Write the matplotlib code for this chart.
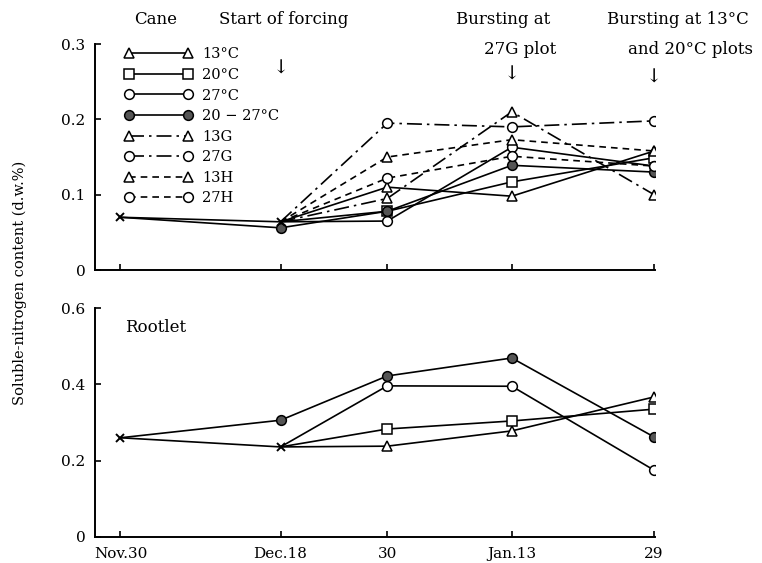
import matplotlib.pyplot as plt

plt.rcParams['font.family'] = ['DejaVu Serif', 'DejaVu Sans']

# days after Nov.30
days = [0, 18, 30, 44, 60]
date_labels = ['Nov.30', 'Dec.18', '30', 'Jan.13', '29']

# Cane: common points before forcing (Nov.30, Dec.18)
cane_base = [0.070, 0.064]
# Cane treatments, Dec.18 -> Jan.29
cane_13c = [0.064, 0.110, 0.098, 0.158]
cane_20c = [0.064, 0.078, 0.117, 0.149]
cane_27c = [0.064, 0.065, 0.163, 0.138]
cane_20_27c = [0.070, 0.056, 0.078, 0.139, 0.130]  # from Nov.30
cane_13g = [0.064, 0.095, 0.210, 0.100]
cane_27g = [0.064, 0.195, 0.190, 0.198]
cane_13h = [0.064, 0.150, 0.173, 0.158]
cane_27h = [0.064, 0.122, 0.151, 0.138]

# Rootlet
root_base = [0.260, 0.236]
root_13c = [0.236, 0.238, 0.278, 0.367]
root_20c = [0.236, 0.283, 0.304, 0.335]
root_27c = [0.236, 0.396, 0.395, 0.175]
root_20_27c = [0.260, 0.306, 0.422, 0.469, 0.262]

dashdot = (0, (9, 3, 1.5, 3))
dashed = (0, (4, 3))

def draw(ax, x, y, marker, ls, filled, label=None, skip_first=True):
    fc = '#555555' if filled else 'white'
    me = list(range(1, len(x))) if skip_first else None
    ax.plot(x, y, color='black', lw=1.2, ls=ls, marker=marker, ms=7,
            mfc=fc, mec='black', mew=1.1, markevery=me, label=label, zorder=3)

fig = plt.figure(figsize=(7.62, 5.63), dpi=100)
ax1 = fig.add_axes([0.1247, 0.5204, 0.7349, 0.4014])
ax2 = fig.add_axes([0.1247, 0.0462, 0.7349, 0.4067])

# ---- Cane ----
ax1.plot(days[:2], cane_base, color='black', lw=1.2, marker='x', ms=6, mew=1.4, zorder=4)
draw(ax1, days[1:], cane_13c, '^', '-', False, '13°C')
draw(ax1, days[1:], cane_20c, 's', '-', False, '20°C')
draw(ax1, days[1:], cane_27c, 'o', '-', False, '27°C')
draw(ax1, days, cane_20_27c, 'o', '-', True, '20 − 27°C')
draw(ax1, days[1:], cane_13g, '^', dashdot, False, '13G')
draw(ax1, days[1:], cane_27g, 'o', dashdot, False, '27G')
draw(ax1, days[1:], cane_13h, '^', dashed, False, '13H')
draw(ax1, days[1:], cane_27h, 'o', dashed, False, '27H')

ax1.set_ylim(0, 0.3)
ax1.set_yticks([0, 0.1, 0.2, 0.3])
ax1.set_yticklabels(['0', '0.1', '0.2', '0.3'])
ax1.set_xticklabels([])

leg = ax1.legend(loc='upper left', bbox_to_anchor=(0.052, 0.985), frameon=False,
                 fontsize=10.5, numpoints=2, handlelength=4.7, handletextpad=0.65,
                 labelspacing=0.45, borderpad=0, borderaxespad=0)

# arrows marking events
ax1.text(days[1], 0.268, '↓', ha='center', va='center', fontsize=14)
ax1.text(days[3], 0.259, '↓', ha='center', va='center', fontsize=14)
ax1.text(days[4], 0.255, '↓', ha='center', va='center', fontsize=14)

fig.text(156 / 762, 1 - 20 / 563, 'Cane', ha='center', va='center', fontsize=12)
fig.text(284 / 762, 1 - 20 / 563, 'Start of forcing', ha='center', va='center', fontsize=12)
fig.text(503 / 762, 1 - 20 / 563, 'Bursting at', ha='center', va='center', fontsize=12)
fig.text(520 / 762, 1 - 50 / 563, '27G plot', ha='center', va='center', fontsize=12)
fig.text(678 / 762, 1 - 20 / 563, 'Bursting at 13°C', ha='center', va='center', fontsize=12)
fig.text(690 / 762, 1 - 50 / 563, 'and 20°C plots', ha='center', va='center', fontsize=12)

# ---- Rootlet ----
ax2.plot(days[:2], root_base, color='black', lw=1.2, marker='x', ms=6, mew=1.4, zorder=4)
draw(ax2, days[1:], root_13c, '^', '-', False)
draw(ax2, days[1:], root_20c, 's', '-', False)
draw(ax2, days[1:], root_27c, 'o', '-', False)
draw(ax2, days, root_20_27c, 'o', '-', True)

ax2.set_ylim(0, 0.6)
ax2.set_yticks([0, 0.2, 0.4, 0.6])
ax2.set_yticklabels(['0', '0.2', '0.4', '0.6'])
ax2.set_xticklabels(date_labels)
ax2.text(0.5, 0.55, 'Rootlet', ha='left', va='center', fontsize=12)

for ax in (ax1, ax2):
    ax.set_xlim(-2.86, 60.1)
    ax.set_xticks(days)
    for s in ('top', 'right'):
        ax.spines[s].set_visible(False)
    for s in ('left', 'bottom'):
        ax.spines[s].set_linewidth(1.4)
    ax.tick_params(direction='in', length=4, width=1.2, labelsize=11, pad=7)

fig.text(20 / 762, 1 - 283 / 563, 'Soluble-nitrogen content (d.w.%)', rotation=90,
         ha='center', va='center', fontsize=10.5)

fig.savefig('out.png', dpi=100)
